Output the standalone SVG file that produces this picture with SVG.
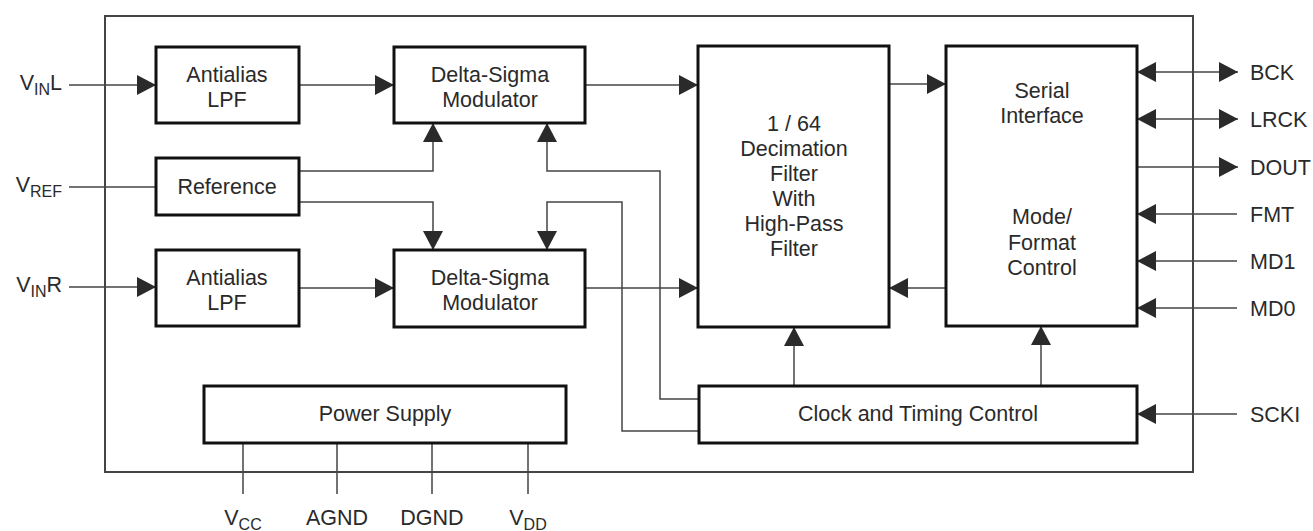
<svg xmlns="http://www.w3.org/2000/svg" width="1313" height="531" viewBox="0 0 1313 531">
<style>
.box{fill:#fff;stroke:#111;stroke-width:3}
.frame{fill:none;stroke:#444;stroke-width:2}
.w{fill:none;stroke:#444;stroke-width:1.5}
.a{marker-end:url(#ah)}
.b{marker-start:url(#ah);marker-end:url(#ah)}
text{font-family:"Liberation Sans",Arial,sans-serif;font-size:21.5px;fill:#2a2a2a}
.c{text-anchor:middle}
.e{text-anchor:end}
</style>
<defs>
<marker id="ah" viewBox="0 0 19 20" refX="19" refY="10" markerWidth="19" markerHeight="20" markerUnits="userSpaceOnUse" orient="auto-start-reverse">
<path d="M0 0L19 10L0 20Z" fill="#2a2a2a"/>
</marker>
</defs>
<rect id="frame" class="frame" x="105" y="16" width="1088" height="456"/>
<g id="connectors">
<path class="w a" d="M69 85H156"/>
<path class="w" d="M69 187H156"/>
<path class="w a" d="M69 287H156"/>
<path class="w a" d="M299 85H394"/>
<path class="w a" d="M299 288H394"/>
<path class="w a" d="M299 171H433V123"/>
<path class="w a" d="M299 202H433V250"/>
<path class="w a" d="M699 399H660V171H547V123"/>
<path class="w a" d="M699 431H622V202H547V250"/>
<path class="w a" d="M585 85H698"/>
<path class="w a" d="M585 288H698"/>
<path class="w a" d="M889 84H946"/>
<path class="w a" d="M946 288H889"/>
<path class="w a" d="M794 386V327"/>
<path class="w a" d="M1041 386V326"/>
<path class="w b" d="M1137 72H1238"/>
<path class="w b" d="M1137 119H1238"/>
<path class="w a" d="M1137 167H1238"/>
<path class="w a" d="M1237 214H1137"/>
<path class="w a" d="M1237 261H1137"/>
<path class="w a" d="M1237 308H1137"/>
<path class="w a" d="M1237 414H1137"/>
<path class="w" d="M243 443V494M337 443V494M432 443V494M528 443V494"/>
</g>
<g id="lpfL"><rect class="box" x="156" y="47" width="143" height="76"/><text class="c" x="227" y="82">Antialias</text><text class="c" x="227" y="107">LPF</text></g>
<g id="reference"><rect class="box" x="156" y="158" width="143" height="57"/><text class="c" x="227" y="194">Reference</text></g>
<g id="lpfR"><rect class="box" x="156" y="250" width="143" height="76"/><text class="c" x="227" y="285">Antialias</text><text class="c" x="227" y="310">LPF</text></g>
<g id="dsmL"><rect class="box" x="394" y="47" width="191" height="76"/><text class="c" x="490" y="82">Delta-Sigma</text><text class="c" x="490" y="107">Modulator</text></g>
<g id="dsmR"><rect class="box" x="394" y="250" width="191" height="77"/><text class="c" x="490" y="285">Delta-Sigma</text><text class="c" x="490" y="310">Modulator</text></g>
<g id="decimation"><rect class="box" x="698" y="46" width="191" height="281"/>
<text class="c" x="794" y="131">1 / 64</text><text class="c" x="794" y="156">Decimation</text><text class="c" x="794" y="181">Filter</text><text class="c" x="794" y="206">With</text><text class="c" x="794" y="231">High-Pass</text><text class="c" x="794" y="256">Filter</text></g>
<g id="serial"><rect class="box" x="946" y="46" width="191" height="280"/>
<text class="c" x="1042" y="98">Serial</text><text class="c" x="1042" y="123">Interface</text><text class="c" x="1042" y="224">Mode/</text><text class="c" x="1042" y="250">Format</text><text class="c" x="1042" y="275">Control</text></g>
<g id="power"><rect class="box" x="204" y="386" width="362" height="57"/><text class="c" x="385" y="421">Power Supply</text></g>
<g id="clock"><rect class="box" x="699" y="386" width="438" height="57"/><text class="c" x="918" y="421">Clock and Timing Control</text></g>
<g id="pins">
<text class="e" x="62" y="90">V<tspan font-size="16" dy="5">IN</tspan><tspan dy="-5">L</tspan></text>
<text class="e" x="62" y="192">V<tspan font-size="16" dy="5">REF</tspan></text>
<text class="e" x="62" y="292">V<tspan font-size="16" dy="5">IN</tspan><tspan dy="-5">R</tspan></text>
<text x="1250" y="80">BCK</text>
<text x="1250" y="127">LRCK</text>
<text x="1250" y="175">DOUT</text>
<text x="1250" y="222">FMT</text>
<text x="1250" y="269">MD1</text>
<text x="1250" y="316">MD0</text>
<text x="1250" y="422">SCKI</text>
<text class="c" x="243" y="525">V<tspan font-size="16" dy="5">CC</tspan></text>
<text class="c" x="337" y="525">AGND</text>
<text class="c" x="432" y="525">DGND</text>
<text class="c" x="528" y="525">V<tspan font-size="16" dy="5">DD</tspan></text>
</g>
</svg>
